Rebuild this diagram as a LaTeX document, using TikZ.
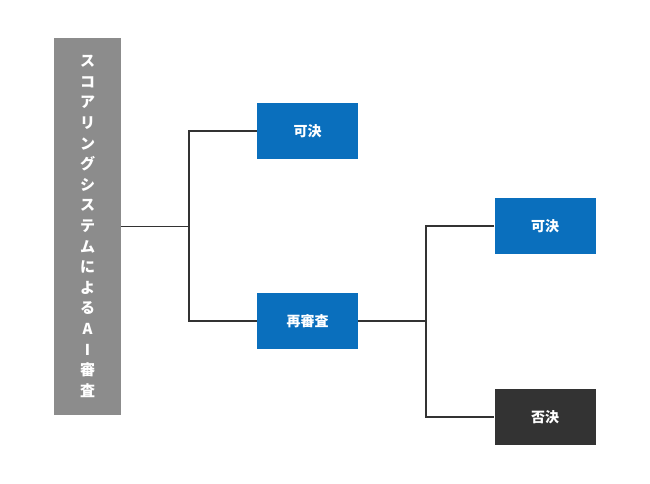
\documentclass[tikz,border=0pt]{standalone}
\usepackage{fontspec}
\setmainfont{Noto Sans CJK JP}
\definecolor{sysgray}{HTML}{8C8C8C}
\definecolor{okblue}{HTML}{0A6FBD}
\definecolor{ngdark}{HTML}{333333}
\tikzset{
  result/.style={minimum width=101pt, minimum height=56pt, text=white, font=\fontsize{14}{16}\selectfont\bfseries},
  link/.style={draw=ngdark, line width=1.5pt}
}
\begin{document}
\begin{tikzpicture}[x=1pt,y=-1pt]
    \useasboundingbox (0,0) rectangle (650,484);
    \node (sys) at (87.5, 226.5) [fill=sysgray, minimum width=67pt, minimum height=377pt, text=white, align=center,
        font=\fontsize{15}{20.6}\selectfont\bfseries] {ス\\コ\\ア\\リ\\ン\\グ\\シ\\ス\\テ\\ム\\に\\よ\\る\\A\\I\\審\\査};
    \node (ok1) at (307.5, 131) [result, fill=okblue] {可決};
    \node (re) at (307.5, 321) [result, fill=okblue] {再審査};
    \node (ok2) at (545, 226) [result, fill=okblue] {可決};
    \node (ng) at (545, 417) [result, fill=ngdark] {否決};
    \coordinate (b1) at (189, 226.5);
    \coordinate (b2) at (426, 321);
    \draw[link] (sys.east |- b1) -- (b1);
    \draw[link] (ok1.west) -| (b1) |- (re.west);
    \draw[link] (re.east) -- (b2);
    \draw[link] (ok2.west) -| (b2) |- (ng.west);
\end{tikzpicture}
\end{document}
